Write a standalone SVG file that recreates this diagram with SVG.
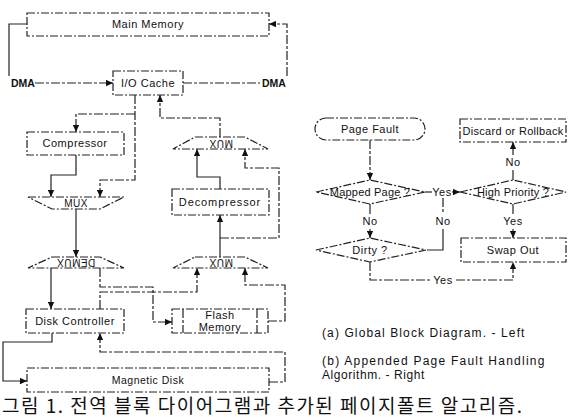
<svg xmlns="http://www.w3.org/2000/svg" width="568" height="420" viewBox="0 0 568 420">
<defs>
<marker id="ah" viewBox="0 0 10 10" refX="10" refY="5" markerWidth="7" markerHeight="7" orient="auto" markerUnits="userSpaceOnUse"><path d="M0,0.5 L10,5 L0,9.5 z" fill="#111"/></marker>
<style>
.b{fill:#fff;stroke:#222;stroke-width:1.2;stroke-dasharray:8 2 2 2}
.c{fill:none;stroke:#222;stroke-width:1.2;stroke-dasharray:9 2 3 2}
.s{fill:none;stroke:#222;stroke-width:1.2}
.a{marker-end:url(#ah)}
text{font-family:"Liberation Sans",Arial,sans-serif;fill:#111;font-size:11px;text-anchor:middle;letter-spacing:0.5px}
.lb{font-size:10.5px;font-weight:bold;text-anchor:start;letter-spacing:0}
.cap{font-size:12px;text-anchor:start;letter-spacing:0.6px}
.kr{font-family:"Noto Sans CJK KR","Noto Sans",sans-serif;font-size:19px;text-anchor:start;letter-spacing:0}
</style>
</defs>
<g id="connectors">
<polyline class="s" points="27,24 9,24 9,76"/>
<line class="c a" x1="35" y1="83" x2="113" y2="83"/>
<line class="c" x1="183" y1="83" x2="260" y2="83"/>
<polyline class="c a" points="287,76 287,24 269,24"/>
<polyline class="c a" points="135,114 76,114 76,132"/>
<polyline class="c a" points="135,95 135,180 100,180 100,197"/>
<polyline class="s a" points="76,155 76,175 51,175 51,197"/>
<line class="s a" x1="76" y1="209" x2="76" y2="257"/>
<line class="s a" x1="51" y1="268" x2="51" y2="309"/>
<polyline class="c a" points="100,268 100,287 153,287 153,322 172,322"/>
<polyline class="c a" points="100,309 100,292 197,292 197,268"/>
<polyline class="c a" points="268,321 285,321 285,285 245,285 245,268"/>
<line class="s a" x1="220" y1="257" x2="220" y2="215"/>
<polyline class="c a" points="220,238 279,238 279,168 245,168 245,149"/>
<polyline class="s a" points="220,189 220,177 197,177 197,149"/>
<polyline class="c a" points="220,137 220,118 160,118 160,95"/>
<polyline class="s a" points="52,333 52,342 3,342 3,381 27,381"/>
<polyline class="c a" points="269,382 285,382 285,352 100,352 100,333"/>
<line class="c a" x1="370" y1="140" x2="370" y2="180"/>
<line class="c" x1="425" y1="192" x2="432" y2="192"/>
<line class="s a" x1="452" y1="192" x2="460" y2="192"/>
<polyline class="c" points="443,198 443,214"/>
<polyline class="s" points="443,229 443,250 427,250"/>
<line class="s" x1="370" y1="204" x2="370" y2="214"/>
<line class="s a" x1="370" y1="229" x2="370" y2="238"/>
<line class="s" x1="513" y1="204" x2="513" y2="214"/>
<line class="s a" x1="513" y1="229" x2="513" y2="238"/>
<line class="s" x1="513" y1="180" x2="513" y2="170"/>
<line class="s a" x1="513" y1="155" x2="513" y2="142"/>
<polyline class="c" points="370,262 370,280 430,280"/>
<polyline class="c a" points="456,280 513,280 513,262"/>
</g>
<g id="main-memory"><rect class="b" x="27" y="13" width="242" height="23"/><text x="148" y="28">Main Memory</text></g>
<g id="dma-left"><text class="lb" x="11" y="87">DMA</text></g>
<g id="dma-right"><text class="lb" x="262" y="87">DMA</text></g>
<g id="io-cache"><rect class="b" x="113" y="71" width="70" height="24"/><text x="148" y="87">I/O Cache</text></g>
<g id="compressor"><rect class="b" x="27" y="132" width="97" height="23"/><text x="75" y="147">Compressor</text></g>
<g id="mux-left"><polygon class="b" points="28,197 124,197 100,209 52,209"/><text x="76" y="207" style="font-size:10px">MUX</text></g>
<g id="demux-left"><polygon class="b" points="52,257 100,257 124,268 28,268"/><text x="76" y="266" style="font-size:10px" transform="rotate(180 76 262.5)">DEMUX</text></g>
<g id="mux-upper"><polygon class="b" points="195,137 245,137 268,149 173,149"/><text x="221" y="146.5" style="font-size:10px" transform="rotate(180 221 143)">MUX</text></g>
<g id="decompressor"><rect class="b" x="172" y="189" width="97" height="26"/><text x="220" y="206" style="letter-spacing:0.9px">Decompressor</text></g>
<g id="mux-lower"><polygon class="b" points="195,257 245,257 268,268 173,268"/><text x="221" y="266" style="font-size:10px" transform="rotate(180 221 262.5)">MUX</text></g>
<g id="disk-controller"><rect class="b" x="26" y="309" width="98" height="24"/><text x="75" y="325">Disk Controller</text></g>
<g id="flash-memory"><rect class="b" x="172" y="309" width="96" height="24"/><line class="c" x1="183" y1="309" x2="183" y2="333"/><line class="c" x1="257" y1="309" x2="257" y2="333"/><text x="220" y="319">Flash</text><text x="220" y="331">Memory</text></g>
<g id="magnetic-disk"><rect class="b" x="27" y="368" width="242" height="24"/><text x="148" y="384" style="font-size:10.5px">Magnetic Disk</text></g>
<g id="page-fault"><rect class="b" x="315" y="118" width="110" height="22" rx="11"/><text x="370" y="133">Page Fault</text></g>
<g id="discard"><rect class="b" x="460" y="119" width="106" height="23"/><text x="513" y="135" style="letter-spacing:0.3px">Discard or Rollback</text></g>
<g id="mapped-page"><polygon class="b" points="316,192 370,180 425,192 370,204"/><text x="370" y="196" style="letter-spacing:0.2px">Mapped Page ?</text></g>
<g id="high-priority"><polygon class="b" points="460,192 513,180 566,192 513,204"/><text x="513" y="196" style="letter-spacing:0.2px">High Priority ?</text></g>
<g id="dirty"><polygon class="b" points="316,250 370,238 426,250 370,262"/><text x="370" y="254">Dirty ?</text></g>
<g id="swap-out"><rect class="b" x="461" y="238" width="105" height="24"/><text x="513" y="254">Swap Out</text></g>
<g id="labels">
<text x="442" y="196">Yes</text>
<text x="443" y="225">No</text>
<text x="370" y="225">No</text>
<text x="513" y="225">Yes</text>
<text x="513" y="166">No</text>
<text x="443" y="284">Yes</text>
</g>
<g id="captions">
<text class="cap" x="322" y="337" textLength="203" lengthAdjust="spacing">(a) Global Block Diagram. - Left</text>
<text class="cap" x="322" y="365" textLength="223" lengthAdjust="spacing">(b) Appended Page Fault Handling</text>
<text class="cap" x="322" y="379" textLength="103" lengthAdjust="spacing">Algorithm. - Right</text>
<text class="kr" x="2" y="413" textLength="520" lengthAdjust="spacing">그림 1. 전역 블록 다이어그램과 추가된 페이지폴트 알고리즘.</text>
</g>
</svg>
